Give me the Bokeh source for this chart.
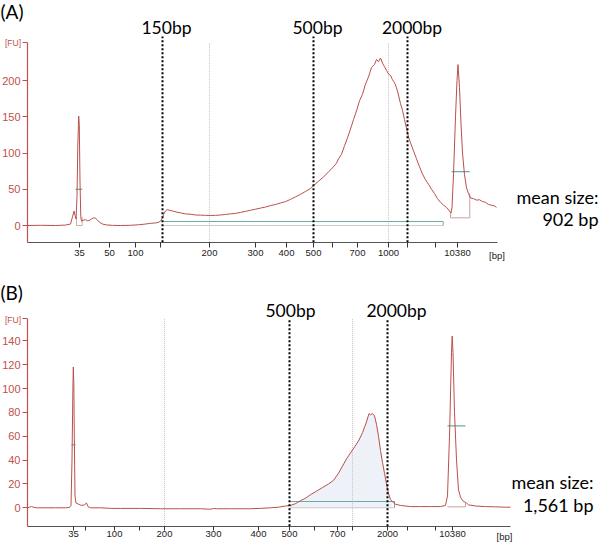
from bokeh.plotting import figure
from bokeh.layouts import column
from bokeh.models import Range1d, FixedTicker, Label, LinearAxis
from bokeh.embed import file_html
from bokeh.resources import INLINE
import numpy as np

# ---------------- data : panel A ----------------
a_pos = [27, 40, 55, 65, 70, 72, 73.5, 74.5, 75.5, 76.5,
         77.3, 78.2, 78.8, 79.5, 80.3, 81, 83, 85, 87, 89,
         91, 93, 95, 97, 99, 102, 106, 112, 120, 130,
         138, 145, 150, 155, 158, 160, 161.5, 163, 165, 166.7,
         169, 172, 176, 180, 185, 190, 195, 200, 205, 210,
         215, 220, 225, 230, 235, 240, 245, 250, 255, 260,
         265, 270, 275, 280, 285, 290, 295, 300, 305, 310,
         313, 318, 323, 328, 333, 336, 338, 341, 344, 347,
         350, 353, 356, 359, 362, 365, 368, 371, 374, 376,
         378, 380, 382, 384, 386, 388, 390, 392, 394, 396,
         398, 400, 402, 404, 406, 408, 410, 413, 416, 419,
         422, 425, 428, 431, 434, 437, 440, 443, 446, 449,
         450.5, 451.5, 453, 455, 456.5, 457.5, 459, 460.5, 462, 464,
         466, 468, 470, 473, 476, 479, 482, 485, 488, 491,
         494, 496]
a_fu = [0, 0.3, 0, 0.6, 2, 12, 20, 14, 9, 40,
        110, 151, 138, 60, 12, 6, 7.5, 8, 6.5, 7,
        9, 10.5, 10, 7.5, 4.5, 2, 0.8, 0.2, 0, 0.3,
        1, 2, 3, 3.5, 4.5, 6, 9, 15, 20, 22,
        21, 20, 18.5, 17.5, 16, 15.5, 14.5, 14.3, 14, 13.8,
        14, 14.5, 15.2, 16, 16.8, 18, 19.5, 21, 22.5, 24,
        25.5, 27.5, 29, 31, 33, 36, 39.5, 43, 47, 51,
        55, 61, 67, 74, 81, 86, 92, 98, 110, 121,
        133, 146, 158, 172, 181, 195, 205, 218, 222, 229,
        226, 231, 224, 219, 214, 209, 207, 201, 197, 190,
        180, 168, 159, 146, 134, 122, 114, 103, 92, 81,
        71, 63, 57, 50, 44, 37, 32, 28, 25, 20,
        17, 25, 70, 150, 200, 222, 190, 140, 100, 70,
        52, 44, 38, 37, 35, 35.5, 33, 32, 29, 28,
        27, 25]
a_tick_pos = [79, 109, 135, 160, 209, 255, 286, 313, 332, 357, 388, 407, 435, 457]
a_tick_lab = ["35", "50", "100", "", "200", "300", "400", "500", "", "700", "1000", "", "", "10380"]
a_y_ticks = [0, 50, 100, 150, 200]
a_y_top = 252
a_y_bottom = -23
a_x_start, a_x_end = 27, 497
a_cut_pos = [162, 313, 407]
a_cut_lab = ["150bp", "500bp", "2000bp"]
a_grid_pos = [209, 388]
a_smear = (162, 442.7, 5.5)          # start, end, level (FU)
a_upper = (451, 469.3, 74.4)         # upper marker bar
a_upper_box = ([450, 450, 469.3, 469.3], [16.5, 10.6, 10.6, 44.5])
a_lower = (75, 81.7, 50)             # lower marker bar
a_lower_box = ([76, 76, 81.7, 81.7], [12, 0, 0, 12])
a_mean = ["mean size:", "902 bp"]

# ---------------- data : panel B ----------------
b_pos = [27, 29, 31, 33, 36, 45, 55, 65, 69, 70.5,
         71.5, 72.4, 72.8, 73.3, 73.8, 74.5, 75.5, 78, 81, 84,
         86, 87.5, 90, 100, 110, 120, 140, 160, 180, 200,
         210, 213, 216, 230, 250, 260, 270, 278, 285, 290,
         295, 300, 305, 310, 316, 322, 328, 333, 338, 342,
         346, 350, 354, 358, 362, 366, 368.5, 370, 372, 374,
         376, 378, 380, 382, 384, 386, 388, 390, 392, 395,
         400, 410, 420, 430, 440, 445, 447, 449, 451, 451.7,
         452.5, 454, 456, 458, 460, 462, 464, 466, 468, 475,
         485, 495, 505, 510]
b_fu = [0, 0.5, 1, 0.5, 0, 0, 0, 0, 0.3, 2,
        40, 100, 118, 105, 60, 10, 4, 3, 2, 2.5,
        4, 1, 0, 0, -0.5, -0.5, -0.5, -0.8, -0.8, -0.8,
        -1.2, -0.6, -0.8, -0.8, -0.8, -0.5, 0, 0.5, 1.5, 2,
        3.5, 6, 8, 11, 14, 17, 20, 23, 29, 35,
        41, 46, 51, 56, 63, 72, 79, 78, 79, 77,
        70, 60, 48, 38, 29, 20, 12, 7, 5, 3,
        2, 1, 1, 1, 1, 2, 10, 60, 130, 144,
        130, 80, 40, 15, 9, 6, 5, 4, 2.5, 1.5,
        1, 0.8, 0.5, 0.5]
b_tick_pos = [73, 85, 114, 139, 164, 213, 258, 289, 314, 337, 352, 387, 407, 435, 452]
b_tick_lab = ["35", "", "100", "", "200", "300", "400", "500", "", "700", "", "2000", "", "", "10380"]
b_y_ticks = [0, 20, 40, 60, 80, 100, 120, 140]
b_y_top = 158.7
b_y_bottom = -15.4
b_x_start, b_x_end = 27, 510
b_cut_pos = [289, 387]
b_cut_lab = ["500bp", "2000bp"]
b_grid_pos = [164, 352]
b_smear = (290, 394, 5.3)
b_fill_range = (290, 392)
b_upper = (447, 465, 68.7)
b_upper_box = ([465, 465, 447], [4, 0.8, 0.8])
b_lower = (71, 75, 52.8)
b_mean = ["mean size:", "1,561 bp"]

# ---------------- styling / layout ----------------
W, H_A, H_B = 600, 268, 277
RED = "#c0504d"
TRACE = "#b8504c"
TEAL = "#6aaca6"
GRAYDOT = "#9a9a9a"
BIGFONT = "Lato"
SMALLFONT = "Liberation Sans"

# pixel calibration of each panel (pixel row of 0 FU, pixels per FU, top row)
A_ZERO_PX, A_PX_PER_FU, A_REF_TOP = 225.0, 0.725, 0.0
B_ZERO_PX, B_PX_PER_FU, B_REF_TOP = 507.3, 1.1929, float(H_A)


def make_panel(h, zero_px, px_per_fu, ref_top, x0, x1, yb, yt, tick_pos, tick_lab,
               y_ticks, x_out, x_std):
    ref_bottom = ref_top + h
    fu = lambda ry: (zero_px - ry) / px_per_fu
    p = figure(width=W, height=h, x_range=Range1d(0, W),
               y_range=Range1d(fu(ref_bottom), fu(ref_top)),
               output_backend="svg", toolbar_location=None,
               x_axis_location=None, y_axis_location=None,
               min_border_left=0, min_border_right=0, min_border_top=0,
               min_border_bottom=0)
    p.outline_line_color = None
    p.grid.visible = False

    ya = LinearAxis(fixed_location=x0, bounds=(yb, yt))
    ya.ticker = FixedTicker(ticks=list(y_ticks) + [yt])
    ya.major_label_overrides = {yt: ""}
    ya.axis_line_color = RED
    ya.axis_line_width = 1.2
    ya.major_tick_line_color = RED
    ya.minor_tick_line_color = None
    ya.major_tick_in = 0
    ya.major_tick_out = 5
    ya.major_label_standoff = 2
    ya.major_label_text_color = RED
    ya.major_label_text_font = SMALLFONT
    ya.major_label_text_font_size = "11px"
    p.add_layout(ya, "left")

    xa = LinearAxis(fixed_location=yb, bounds=(x0, x1))
    xa.ticker = FixedTicker(ticks=tick_pos)
    xa.major_label_overrides = {t: l for t, l in zip(tick_pos, tick_lab)}
    xa.axis_line_color = "#555555"
    xa.major_tick_line_color = "#333333"
    xa.minor_tick_line_color = None
    xa.major_tick_in = 0
    xa.major_tick_out = x_out
    xa.major_label_standoff = x_std
    xa.major_label_text_color = "#222222"
    xa.major_label_text_font = SMALLFONT
    xa.major_label_text_font_size = "9.5px"
    p.add_layout(xa, "below")
    return p, fu


def add_common(p, fu, pos, trace, yb, yt, cut_pos, cut_lab, cut_dx, cut_ry, cut_top_ry,
               grid_pos, smear, upper, upper_box, lower, panel_lab, panel_ry, fu_ry,
               mean_lab, mean_rx, mean_ry, bp_rx, bp_ry):
    p.segment(x0=grid_pos, y0=[yb] * len(grid_pos), x1=grid_pos, y1=[yt] * len(grid_pos),
              line_color="#c4c4c4", line_width=1, line_dash="1 1")
    # smear integration
    p.segment(x0=[smear[0]], y0=[0], x1=[smear[1]], y1=[0], line_color=GRAYDOT,
              line_width=1, line_dash="1 1")
    p.segment(x0=[smear[1]], y0=[0], x1=[smear[1]], y1=[smear[2]], line_color=GRAYDOT,
              line_width=1)
    p.segment(x0=[smear[0]], y0=[smear[2]], x1=[smear[1]], y1=[smear[2]],
              line_color=TEAL, line_width=1.2)
    p.line(upper_box[0], upper_box[1], line_color="#c9a0a0", line_width=1)
    p.segment(x0=[upper[0]], y0=[upper[2]], x1=[upper[1]], y1=[upper[2]],
              line_color=TEAL, line_width=1.2)
    # trace
    p.line(pos, trace, line_color=TRACE, line_width=1)
    p.segment(x0=[lower[0]], y0=[lower[2]], x1=[lower[1]], y1=[lower[2]],
              line_color="#777777", line_width=1)
    n = len(cut_pos)
    p.segment(x0=cut_pos, y0=[yb] * n, x1=cut_pos, y1=[fu(cut_top_ry)] * n,
              line_color="black", line_width=2, line_dash="2 2")
    for c, l, dx in zip(cut_pos, cut_lab, cut_dx):
        p.add_layout(Label(x=c + dx, y=fu(cut_ry), text=l, text_align="center",
                           text_baseline="middle", text_font=BIGFONT,
                           text_font_size="17.5px", text_color="black"))
    p.add_layout(Label(x=0, y=fu(panel_ry), text=panel_lab, text_align="left",
                       text_baseline="middle", text_font=BIGFONT,
                       text_font_size="19px", text_color="black"))
    p.add_layout(Label(x=12.5, y=fu(fu_ry), text="[FU]", text_align="center",
                       text_baseline="middle", text_font=SMALLFONT,
                       text_font_size="8.5px", text_color=RED))
    for l, ry in zip(mean_lab, mean_ry):
        p.add_layout(Label(x=mean_rx, y=fu(ry), text=l, text_align="right",
                           text_baseline="middle", text_font=BIGFONT,
                           text_font_size="18px", text_color="black"))
    p.add_layout(Label(x=bp_rx, y=fu(bp_ry), text="[bp]", text_align="center",
                       text_baseline="middle", text_font=SMALLFONT,
                       text_font_size="9.5px", text_color="#222222"))


# ---- panel A ----
pa, fu_a = make_panel(H_A, A_ZERO_PX, A_PX_PER_FU, A_REF_TOP, a_x_start, a_x_end,
                      a_y_bottom, a_y_top, a_tick_pos, a_tick_lab, a_y_ticks, 5, 3)
pa.line(a_lower_box[0], a_lower_box[1], line_color="#d8a8a8", line_width=1)
add_common(pa, fu_a, a_pos, a_fu, a_y_bottom, a_y_top, a_cut_pos, a_cut_lab,
           [4, 4, 4.5], 27, 36, a_grid_pos, a_smear, a_upper, a_upper_box, a_lower,
           "(A)", 11, 42, a_mean, 598, [196, 218], 496.5, 255)

# ---- panel B ----
pb, fu_b = make_panel(H_B, B_ZERO_PX, B_PX_PER_FU, B_REF_TOP, b_x_start, b_x_end,
                      b_y_bottom, b_y_top, b_tick_pos, b_tick_lab, b_y_ticks, 4, 1)
bp = np.array(b_pos, dtype=float)
bf = np.array(b_fu, dtype=float)
mask = (bp >= b_fill_range[0]) & (bp <= b_fill_range[1])
pb.varea(x=bp[mask], y1=np.zeros(mask.sum()), y2=bf[mask], fill_color="#eef1f8")
add_common(pb, fu_b, b_pos, b_fu, b_y_bottom, b_y_top, b_cut_pos, b_cut_lab, [1, 9],
           310, 318, b_grid_pos, b_smear, b_upper, b_upper_box, b_lower, "(B)", 292, 319,
           b_mean, 593, [481, 504], 504, 536)

layout = column(pa, pb, spacing=0)
open("out.html", "w").write(file_html(layout, INLINE))
